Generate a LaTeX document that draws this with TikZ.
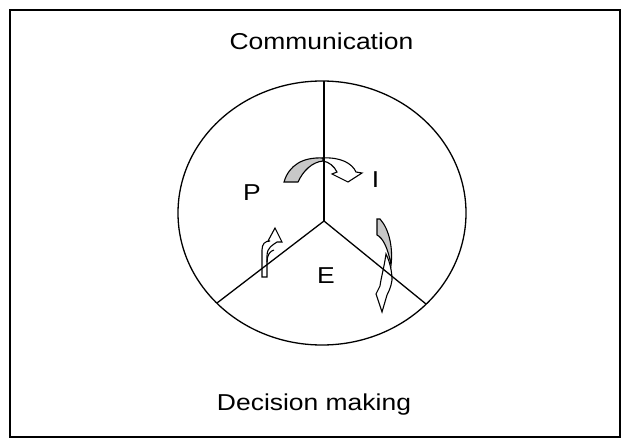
\documentclass[tikz,border=0pt]{standalone}
\usepackage{fontspec}
\setmainfont{Liberation Sans}[FakeStretch=1.15]
\definecolor{bandgray}{RGB}{200,200,200}
\begin{document}
\begin{tikzpicture}[x=1pt,y=-1pt,
  lbl/.style={font=\fontsize{23}{26}\selectfont, inner sep=0pt, anchor=base},
  frameline/.style={line width=1.3pt},
  divider/.style={line width=1.3pt},
  band/.style={line width=1.1pt, line join=miter, fill=white},
  backband/.style={line width=1.1pt, line join=miter, fill=bandgray}]
\useasboundingbox (0,0) rectangle (623,441);
\draw[frameline] (10,10) rectangle (620,437);

% labels
\node[lbl] (comm) at (321.5,49.5) {Communication};
\node[lbl] (dec) at (314,410) {Decision making};
\node[lbl] (P) at (252,200) {P};
\node[lbl] (I) at (375.5,187) {I};
\node[lbl] (E) at (326,283) {E};

% top curved arrow
\draw[band] (323,158) .. controls (340,157) and (352,163) .. (356,172)
  -- (362,173) -- (348,182) -- (332,174) -- (337,172)
  .. controls (334,166) and (329,162) .. (323,161) -- cycle;
\draw[backband] (323,158) .. controls (303,157) and (289,165) .. (284,182)
  -- (298,182) .. controls (303,171) and (312,162) .. (323,161) -- cycle;

% left small arrow
\draw[band] (262,277) -- (262,250) .. controls (262,244) and (265,241) .. (270,241)
  -- (268,241) -- (275,228) -- (282,242) -- (277,242)
  .. controls (273,245) and (267,247) .. (267,256) -- (267,277) -- cycle;
\draw[line width=1.1pt] (267,262) .. controls (267,255) and (270,251) .. (274,250);

% right arrow
\draw[band] (386,254) .. controls (390,262) and (392,272) .. (392,280)
  .. controls (391,287) and (389,291) .. (387,295)
  -- (382,312) -- (376,294) -- (380,286)
  .. controls (381,278) and (384,268) .. (386,254) -- cycle;
\draw[backband] (377,219) -- (377,235) .. controls (383,238) and (388,248) .. (391,265)
  .. controls (393,250) and (390,230) .. (380,219) -- cycle;

% circle and dividers
\coordinate (hub) at (324,221);
\coordinate (top) at (324,81);
\coordinate (lft) at (217,303);
\coordinate (rgt) at (426,304);
\draw[divider] (322,213) ellipse [x radius=144, y radius=132];
\draw[divider] (top) -- (hub);
\draw[divider] (lft) -- (hub) -- (rgt);
\end{tikzpicture}
\end{document}
